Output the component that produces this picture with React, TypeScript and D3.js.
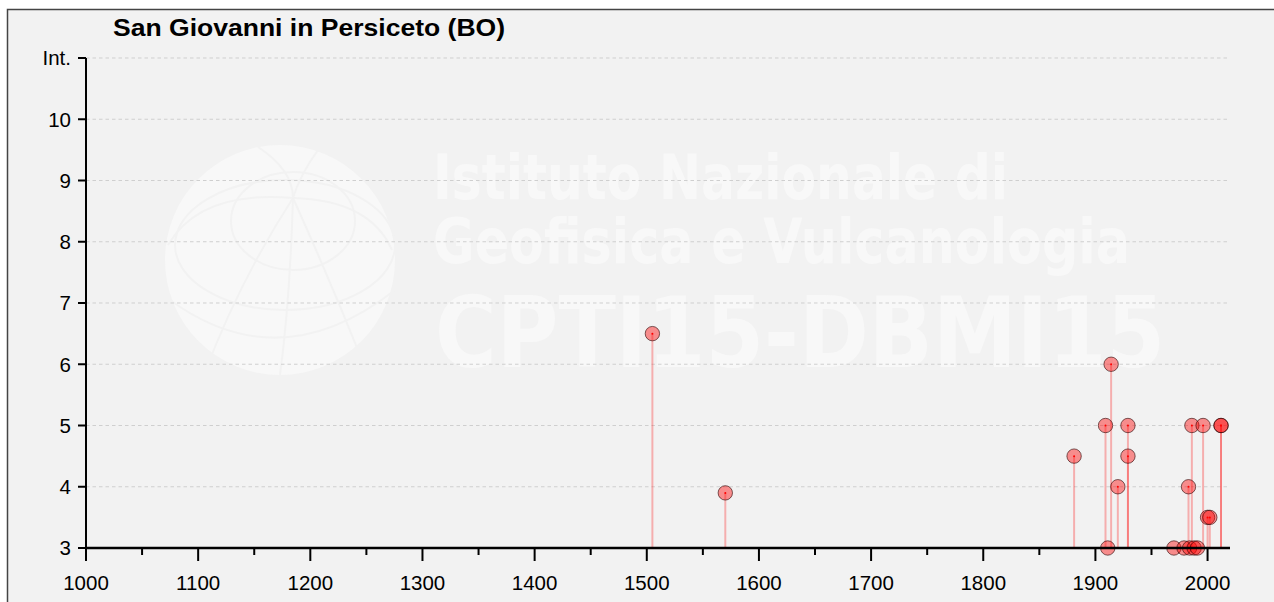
import React from "react";
import { scaleLinear, range } from "d3";

// earthquake years and intensities felt at the site
const years = [1505, 1570, 1881, 1909, 1911, 1914, 1920, 1929, 1929, 1970, 1979, 1983, 1984, 1986, 1988, 1991, 1996, 2000, 2002, 2012, 2012];
const intensities = [6.5, 3.9, 4.5, 5, 3, 6, 4, 5, 4.5, 3, 3, 4, 3, 5, 3, 3, 5, 3.5, 3.5, 5, 5];

const xMajorTicks = [1000, 1100, 1200, 1300, 1400, 1500, 1600, 1700, 1800, 1900, 2000];
const yTicks = [3, 4, 5, 6, 7, 8, 9, 10, 11];
const yTickLabels = ["3", "4", "5", "6", "7", "8", "9", "10", "Int."];

const title = "San Giovanni in Persiceto (BO)";
const wmLines = ["Istituto Nazionale di", "Geofisica e Vulcanologia"];
const wmBig = "CPTI15-DBMI15";

export default function App() {
  const width = 1274;
  const height = 602;
  const x = scaleLinear().domain([1000, 2020]).range([86, 1230]);
  const y = scaleLinear().domain([3, 11]).range([548, 58]);
  const minorTicks = range(1050, 2020, 100);
  const font = "'Liberation Sans', Arial, sans-serif";
  const wmFill = "#f8f8f8";

  return (
    <svg
      width={width}
      height={height}
      style={{ position: "absolute", left: 0, top: 0 }}
      fontFamily={font}
    >
      <rect x={0} y={0} width={width} height={height} fill="#fff" />
      <rect x={7.5} y={9.5} width={1400} height={800} fill="#f2f2f2" stroke="#444" strokeWidth={1.5} />

      {/* watermark */}
      <g>
        <circle cx={280} cy={260} r={115} fill={wmFill} />
        <g fill="none" stroke="#f2f2f2" strokeWidth={2}>
          <ellipse cx={293} cy={221} rx={62} ry={49} />
          <ellipse cx={285} cy={245} rx={110} ry={65} />
          <path d="M170,300 Q280,380 395,290" />
          <path d="M293,198 Q240,280 205,372" />
          <path d="M293,198 Q330,280 362,360" />
          <path d="M293,198 Q290,300 280,375" />
          <path d="M293,198 Q200,190 168,245" />
          <path d="M293,198 Q370,200 392,250" />
          <path d="M258,147 Q293,170 293,198" />
          <path d="M318,150 Q300,175 293,198" />
        </g>
        <g fill={wmFill} fontFamily="'DejaVu Sans', sans-serif" fontWeight="bold">
          {wmLines.map((t, i) => (
            <text key={t} x={433} y={199 + i * 64} fontSize={62} textLength={i === 0 ? 575 : 697} lengthAdjust="spacingAndGlyphs">
              {t}
            </text>
          ))}
          <text x={435} y={367} fontSize={98} textLength={730} lengthAdjust="spacingAndGlyphs">
            {wmBig}
          </text>
        </g>
      </g>

      <text x={113} y={36} fontSize={24} fontWeight="bold" fill="#000" textLength={392} lengthAdjust="spacingAndGlyphs">
        {title}
      </text>

      {/* grid */}
      {yTicks.slice(1).map((t) => (
        <line key={t} x1={86} x2={1230} y1={y(t)} y2={y(t)} stroke="#cfcfcf" strokeWidth={1} strokeDasharray="3.5,3" />
      ))}

      {/* stems */}
      {years.map((yr, i) => (
        <line
          key={`s${i}`}
          x1={x(yr)}
          x2={x(yr)}
          y1={y(3)}
          y2={y(intensities[i])}
          stroke="rgba(255,0,0,0.28)"
          strokeWidth={2}
        />
      ))}

      {/* points */}
      {years.map((yr, i) => (
        <g key={`p${i}`}>
          <circle cx={x(yr)} cy={y(intensities[i])} r={7.2} fill="rgba(255,0,0,0.42)" stroke="rgba(40,0,0,0.6)" strokeWidth={1} />
          <circle cx={x(yr)} cy={y(intensities[i])} r={1} fill="#f00" />
        </g>
      ))}

      {/* y axis */}
      <line x1={86} x2={86} y1={y(11)} y2={y(3)} stroke="#000" strokeWidth={2} />
      {yTicks.map((t, i) => (
        <g key={t}>
          <line x1={78} x2={86} y1={y(t)} y2={y(t)} stroke="#000" strokeWidth={2} />
          <text x={71} y={y(t)} dy="0.36em" textAnchor="end" fontSize={20.5} fill="#000">
            {yTickLabels[i]}
          </text>
        </g>
      ))}

      {/* x axis */}
      <line x1={85} x2={1230} y1={y(3)} y2={y(3)} stroke="#000" strokeWidth={2.5} />
      {minorTicks.map((t) => (
        <line key={t} x1={x(t)} x2={x(t)} y1={y(3)} y2={y(3) + 7} stroke="#000" strokeWidth={2} />
      ))}
      {xMajorTicks.map((t) => (
        <g key={t}>
          <line x1={x(t)} x2={x(t)} y1={y(3)} y2={y(3) + 13} stroke="#000" strokeWidth={2} />
          <text x={x(t)} y={590} textAnchor="middle" fontSize={20.5} fill="#000">
            {t}
          </text>
        </g>
      ))}
    </svg>
  );
}
